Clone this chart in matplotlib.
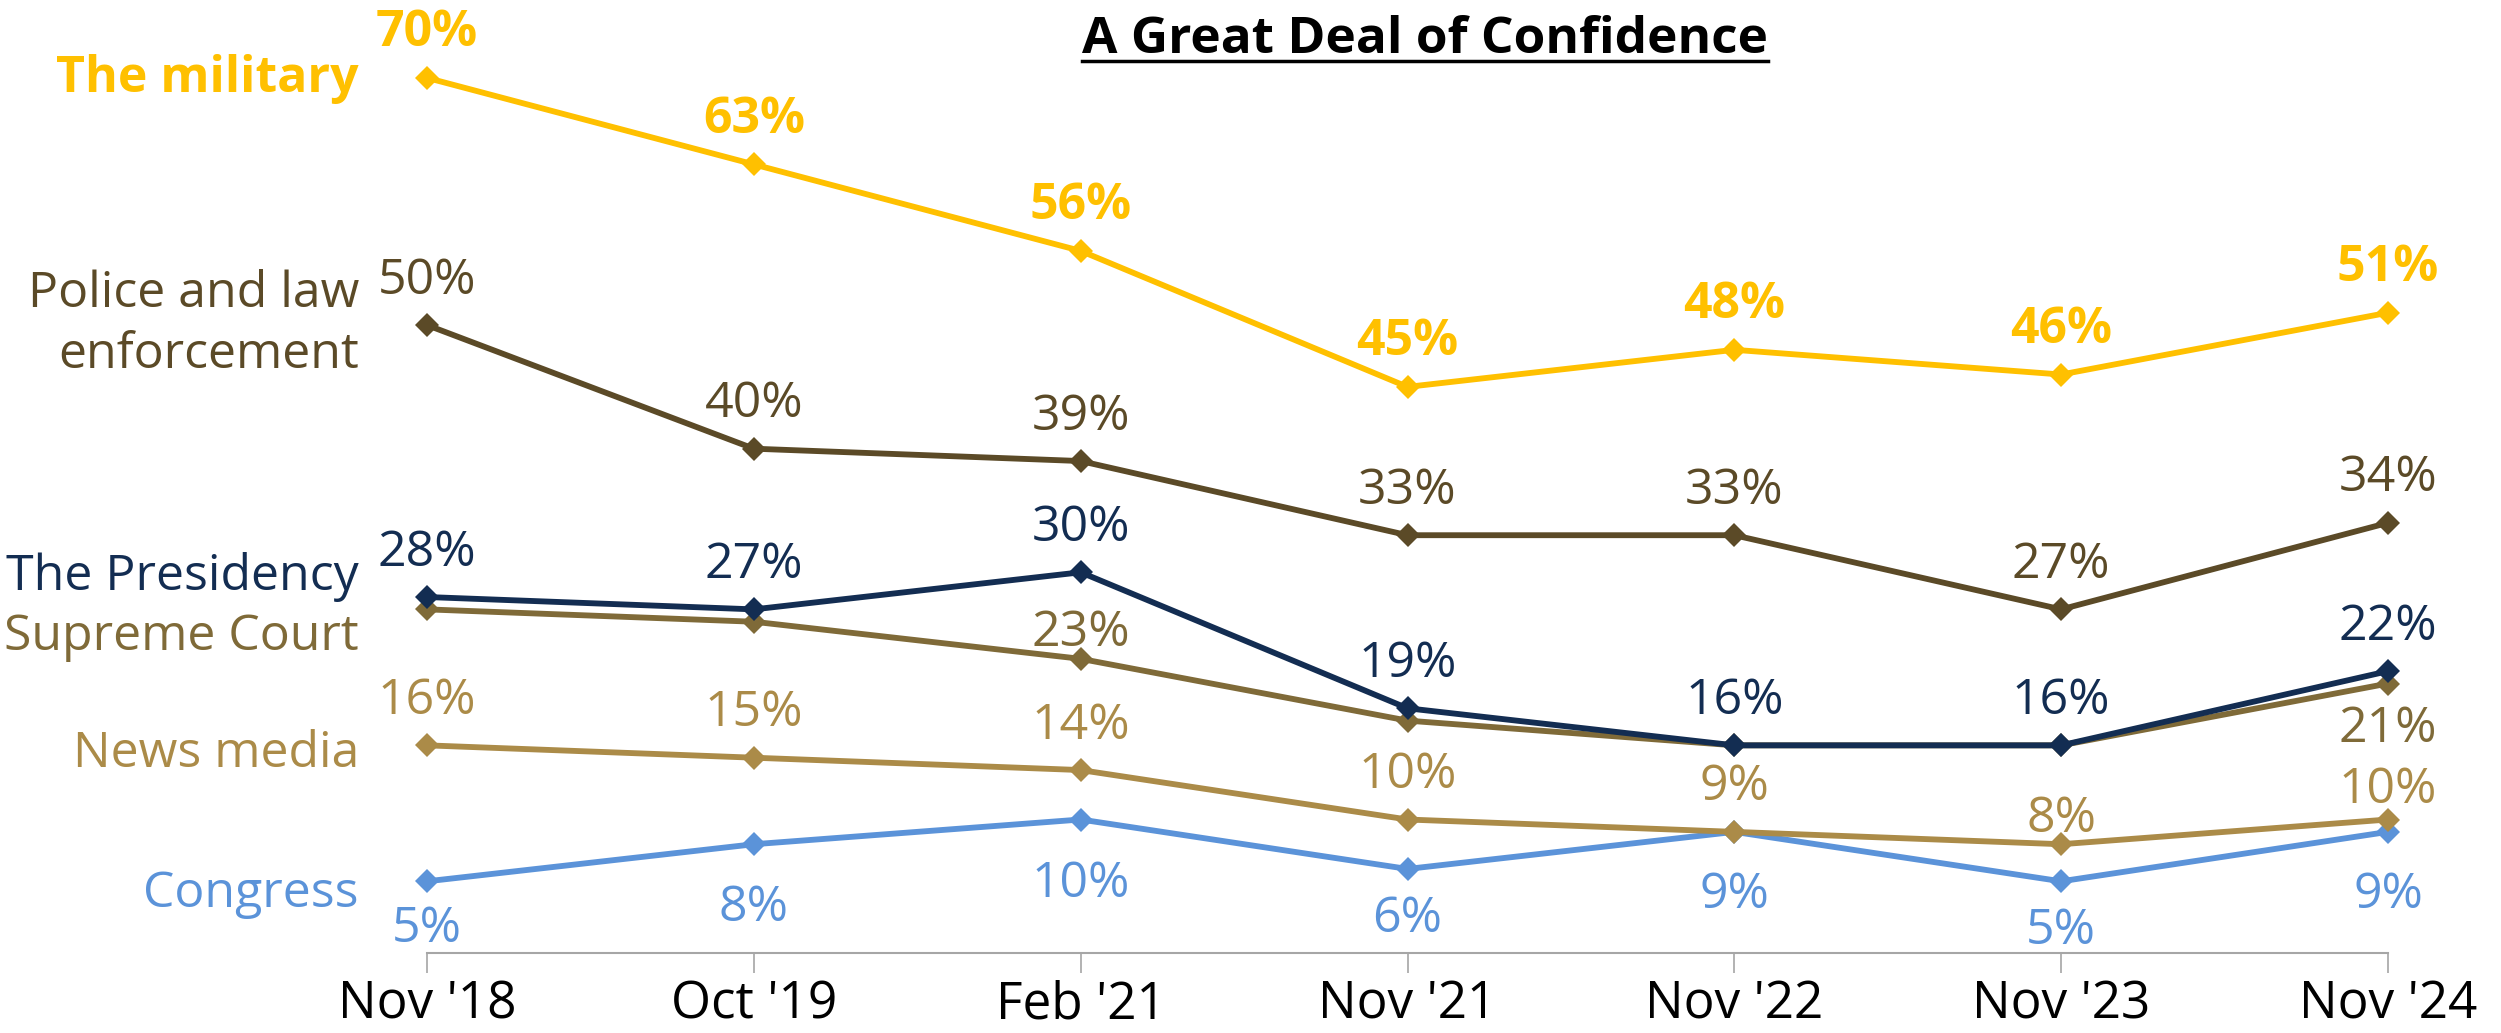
import numpy as np
import matplotlib.pyplot as plt

plt.rcParams['font.family'] = ['Open Sans', 'DejaVu Sans']

dates = ["Nov '18", "Oct '19", "Feb '21", "Nov '21", "Nov '22", "Nov '23", "Nov '24"]

military = [70, 63, 56, 45, 48, 46, 51]
police = [50, 40, 39, 33, 33, 27, 34]
presidency = [28, 27, 30, 19, 16, 16, 22]
supreme_court = [27, 26, 23, 18, 16, 16, 21]
news_media = [16, 15, 14, 10, 9, 8, 10]
congress = [5, 8, 10, 6, 9, 5, 9]

DPI = 100
W, H = 2501, 1033


def px2pt(p):
    return p * 72 / DPI


# label offsets: px from marker to centre of the label's digits (+ up, - down), None = no label
series = [
    # name, values, colour, bold, label offsets, name label (baseline px from top, last line)
    ('Congress', congress, '#5B93D9', False, [-42, -58, -59, -45, -58, -44, -58], 907),
    ('News media', news_media, '#AB8B48', False, [50, 50, 50, 50, 50, 31, 35], 767),
    ('Supreme Court', supreme_court, '#7F6A38', False, [None, None, 31, None, None, None, -40], 650),
    ('The Presidency', presidency, '#132D52', False, [50] * 7, 590),
    ('Police and law\nenforcement', police, '#5B4A27', False, [50] * 7, 368),
    ('The military', military, '#FFC000', True, [50] * 7, 92),
]

fig = plt.figure(figsize=(W / DPI, H / DPI), dpi=DPI)
ax = fig.add_axes([427 / W, 1 - 953 / H, (2388 - 427) / W, 953 / H])

x = np.arange(len(dates))
fs = 36

for name, vals, col, bold, offs, name_y in series:
    ax.plot(x, vals, color=col, lw=4.2, marker='D', ms=12, mew=0, zorder=3, clip_on=False)
    w = 'bold' if bold else 'normal'
    for i, v in enumerate(vals):
        o = offs[i]
        if o is None:
            continue
        # baseline = centre of digits minus half the cap height (~18 px)
        ax.annotate(f'{v}%', (i, v), xytext=(0, px2pt(o - 18.5)), textcoords='offset points',
                    ha='center', va='baseline', fontsize=fs, color=col, fontweight=w,
                    annotation_clip=False)
    fig.text(359 / W, 1 - name_y / H, name, ha='right', va='baseline', fontsize=fs,
             color=col, fontweight=w, multialignment='right', linespacing=1.3)

ax.set_xlim(0, 6)
ax.set_ylim(-0.8, 76.3)
for s in ['top', 'left', 'right']:
    ax.spines[s].set_visible(False)
ax.spines['bottom'].set_color('#A6A6A6')
ax.spines['bottom'].set_linewidth(1.5)
ax.set_yticks([])
ax.set_xticks(x)
ax.set_xticklabels(dates)
ax.tick_params(axis='x', length=px2pt(20), width=1.2, color='#A6A6A6', pad=5, labelsize=fs + 1)

title = fig.text(1425 / W, 1 - 53 / H, 'A Great Deal of Confidence', ha='center', va='baseline',
                 fontsize=fs + 1, fontweight='bold', color='black')
fig.canvas.draw()
bb = title.get_window_extent()
fig.add_artist(plt.Line2D([bb.x0 / W, bb.x1 / W], [1 - 61 / H, 1 - 61 / H],
                          transform=fig.transFigure, color='black', lw=2.5))

fig.savefig('out.png', dpi=DPI)
